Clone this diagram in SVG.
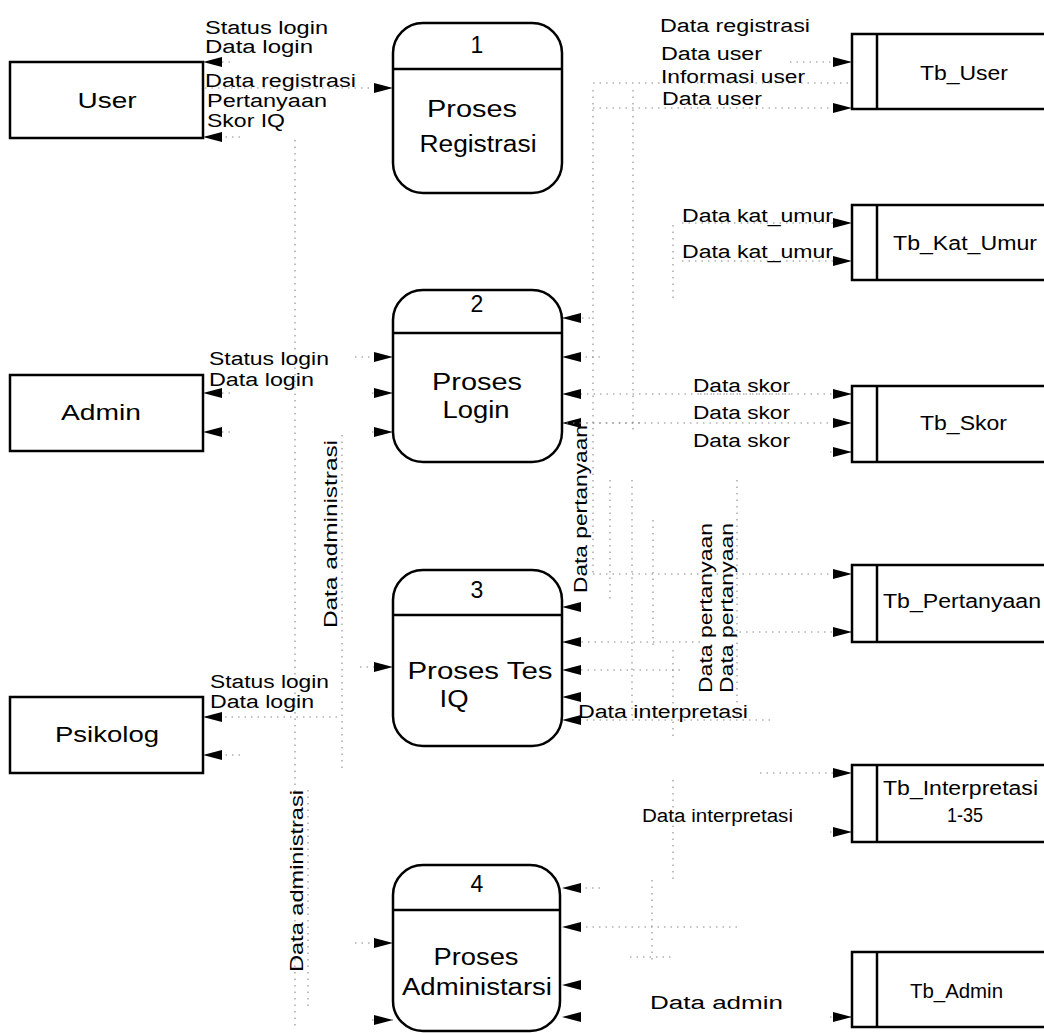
<svg xmlns="http://www.w3.org/2000/svg" width="1044" height="1033" viewBox="0 0 1044 1033">
<defs>
<style>
.box{fill:#fff;stroke:#000;stroke-width:2.5}
.div{stroke:#000;stroke-width:2.5}
.t{font-family:"Liberation Sans",Arial,sans-serif;fill:#000}
.lbl{font-size:18px}
.nd{font-size:22px}
.pn{font-size:23px}
.st{font-size:20px}
.mid{text-anchor:middle}
.c{fill:none;stroke:#8a8a8a;stroke-width:1.1;stroke-dasharray:1.5 5}
.a{fill:none;stroke:#8a8a8a;stroke-width:1.1;stroke-dasharray:1.5 5;marker-end:url(#ah)}
</style>
<marker id="ah" viewBox="0 0 19 10" refX="19" refY="5" markerWidth="19" markerHeight="10" markerUnits="userSpaceOnUse" orient="auto">
<path d="M0,0 L19,5 L0,10 Z" fill="#000"/>
</marker>
</defs>
<rect width="1044" height="1033" fill="#fff"/>

<g id="connectors">
<path class="c" d="M295,140 V1030"/>
<path class="c" d="M342,435 V770"/>
<path class="c" d="M308,790 V1010"/>
<path class="c" d="M593,90 V575"/>
<path class="c" d="M633,90 V430"/>
<path class="c" d="M673,225 V300"/>
<path class="c" d="M610,480 V600"/>
<path class="c" d="M632,480 V720"/>
<path class="c" d="M653,520 V650"/>
<path class="c" d="M673,650 V740"/>
<path class="c" d="M737,480 V720"/>
<path class="c" d="M673,780 V880"/>
<path class="c" d="M652,880 V960"/>
<path class="a" d="M230,62 H203"/>
<path class="a" d="M240,137 H203"/>
<path class="a" d="M205,88 H393"/>
<path class="a" d="M790,62 H852"/>
<path class="c" d="M593,83 H852"/>
<path class="a" d="M593,108 H852"/>
<path class="a" d="M682,223 H852"/>
<path class="a" d="M682,261 H852"/>
<path class="a" d="M590,318 H562"/>
<path class="a" d="M600,357 H562"/>
<path class="a" d="M790,394 H562"/>
<path class="a" d="M640,423 H562"/>
<path class="a" d="M355,357 H393"/>
<path class="a" d="M372,393 H393"/>
<path class="a" d="M372,432 H393"/>
<path class="a" d="M230,393 H203"/>
<path class="a" d="M230,432 H203"/>
<path class="a" d="M700,394 H852"/>
<path class="a" d="M560,423 H852"/>
<path class="a" d="M830,452 H852"/>
<path class="a" d="M593,574 H852"/>
<path class="a" d="M733,632 H852"/>
<path class="a" d="M580,607 H562"/>
<path class="a" d="M700,642 H562"/>
<path class="a" d="M680,670 H562"/>
<path class="a" d="M580,697 H562"/>
<path class="a" d="M770,720 H562"/>
<path class="a" d="M360,667 H393"/>
<path class="a" d="M337,717 H203"/>
<path class="a" d="M240,755 H203"/>
<path class="a" d="M760,773 H852"/>
<path class="a" d="M830,832 H852"/>
<path class="a" d="M600,888 H562"/>
<path class="a" d="M737,927 H562"/>
<path class="c" d="M630,957 H672"/>
<path class="a" d="M580,985 H562"/>
<path class="a" d="M580,1017 H562"/>
<path class="a" d="M355,943 H393"/>
<path class="a" d="M372,1020 H393"/>
<path class="a" d="M830,1017 H852"/>
</g>

<g id="user">
<rect class="box" x="10" y="62" width="193" height="76"/>
<text class="t nd mid" x="107" y="108" textLength="59" lengthAdjust="spacingAndGlyphs">User</text>
</g>
<g id="admin">
<rect class="box" x="10" y="375" width="193" height="76"/>
<text class="t nd mid" x="101" y="420" textLength="80" lengthAdjust="spacingAndGlyphs">Admin</text>
</g>
<g id="psikolog">
<rect class="box" x="10" y="697" width="193" height="76"/>
<text class="t nd mid" x="107" y="742" textLength="104" lengthAdjust="spacingAndGlyphs">Psikolog</text>
</g>

<g id="p1">
<rect class="box" x="393" y="23" width="169" height="170" rx="30"/>
<line class="div" x1="393" y1="69" x2="562" y2="69"/>
<text class="t pn mid" x="477" y="53">1</text>
<text class="t pn mid" x="472" y="117" textLength="90" lengthAdjust="spacingAndGlyphs">Proses</text>
<text class="t pn mid" x="478" y="152" textLength="117" lengthAdjust="spacingAndGlyphs">Registrasi</text>
</g>
<g id="p2">
<rect class="box" x="393" y="290" width="169" height="172" rx="30"/>
<line class="div" x1="393" y1="333" x2="562" y2="333"/>
<text class="t pn mid" x="477" y="312">2</text>
<text class="t pn mid" x="477" y="390" textLength="90" lengthAdjust="spacingAndGlyphs">Proses</text>
<text class="t pn mid" x="476" y="418" textLength="67" lengthAdjust="spacingAndGlyphs">Login</text>
</g>
<g id="p3">
<rect class="box" x="393" y="570" width="169" height="176" rx="30"/>
<line class="div" x1="393" y1="615" x2="562" y2="615"/>
<text class="t pn mid" x="477" y="598">3</text>
<text class="t pn mid" x="480" y="679" textLength="145" lengthAdjust="spacingAndGlyphs">Proses Tes</text>
<text class="t pn mid" x="454" y="707" textLength="29" lengthAdjust="spacingAndGlyphs">IQ</text>
</g>
<g id="p4">
<rect class="box" x="393" y="865" width="167" height="166" rx="30"/>
<line class="div" x1="393" y1="910" x2="560" y2="910"/>
<text class="t pn mid" x="477" y="892">4</text>
<text class="t pn mid" x="476" y="965" textLength="85" lengthAdjust="spacingAndGlyphs">Proses</text>
<text class="t pn mid" x="477" y="995" textLength="150" lengthAdjust="spacingAndGlyphs">Administarsi</text>
</g>

<g id="tb_user">
<rect class="box" x="852" y="34" width="220" height="75"/>
<line class="div" x1="877" y1="34" x2="877" y2="109"/>
<text class="t st" x="920" y="80" textLength="88" lengthAdjust="spacingAndGlyphs">Tb_User</text>
</g>
<g id="tb_kat_umur">
<rect class="box" x="852" y="205" width="220" height="75"/>
<line class="div" x1="877" y1="205" x2="877" y2="280"/>
<text class="t st" x="893" y="250" textLength="144" lengthAdjust="spacingAndGlyphs">Tb_Kat_Umur</text>
</g>
<g id="tb_skor">
<rect class="box" x="852" y="386" width="220" height="76"/>
<line class="div" x1="877" y1="386" x2="877" y2="462"/>
<text class="t st" x="920" y="430" textLength="87" lengthAdjust="spacingAndGlyphs">Tb_Skor</text>
</g>
<g id="tb_pertanyaan">
<rect class="box" x="852" y="565" width="220" height="77"/>
<line class="div" x1="877" y1="565" x2="877" y2="642"/>
<text class="t st" x="883" y="608" textLength="158" lengthAdjust="spacingAndGlyphs">Tb_Pertanyaan</text>
</g>
<g id="tb_interpretasi">
<rect class="box" x="852" y="765" width="220" height="77"/>
<line class="div" x1="877" y1="765" x2="877" y2="842"/>
<text class="t st" x="883" y="795" textLength="155" lengthAdjust="spacingAndGlyphs">Tb_Interpretasi</text>
<text class="t st" x="947" y="822" textLength="36" lengthAdjust="spacingAndGlyphs">1-35</text>
</g>
<g id="tb_admin">
<rect class="box" x="852" y="952" width="220" height="75"/>
<line class="div" x1="877" y1="952" x2="877" y2="1027"/>
<text class="t st" x="910" y="998" textLength="93" lengthAdjust="spacingAndGlyphs">Tb_Admin</text>
</g>

<g id="labels" class="t lbl">
<text x="205" y="34" textLength="123" lengthAdjust="spacingAndGlyphs">Status login</text>
<text x="205" y="53" textLength="108" lengthAdjust="spacingAndGlyphs">Data login</text>
<text x="205" y="87" textLength="151" lengthAdjust="spacingAndGlyphs">Data registrasi</text>
<text x="207" y="107" textLength="120" lengthAdjust="spacingAndGlyphs">Pertanyaan</text>
<text x="207" y="127" textLength="78" lengthAdjust="spacingAndGlyphs">Skor IQ</text>

<text x="209" y="365" textLength="120" lengthAdjust="spacingAndGlyphs">Status login</text>
<text x="209" y="386" textLength="105" lengthAdjust="spacingAndGlyphs">Data login</text>

<text x="210" y="688" textLength="119" lengthAdjust="spacingAndGlyphs">Status login</text>
<text x="210" y="708" textLength="104" lengthAdjust="spacingAndGlyphs">Data login</text>

<text x="660" y="32" textLength="150" lengthAdjust="spacingAndGlyphs">Data registrasi</text>
<text x="661" y="60" textLength="101" lengthAdjust="spacingAndGlyphs">Data user</text>
<text x="661" y="83" textLength="144" lengthAdjust="spacingAndGlyphs">Informasi user</text>
<text x="662" y="105" textLength="100" lengthAdjust="spacingAndGlyphs">Data user</text>

<text x="682" y="222" textLength="151" lengthAdjust="spacingAndGlyphs">Data kat_umur</text>
<text x="682" y="258" textLength="151" lengthAdjust="spacingAndGlyphs">Data kat_umur</text>

<text x="693" y="392" textLength="97" lengthAdjust="spacingAndGlyphs">Data skor</text>
<text x="693" y="419" textLength="97" lengthAdjust="spacingAndGlyphs">Data skor</text>
<text x="693" y="447" textLength="97" lengthAdjust="spacingAndGlyphs">Data skor</text>

<text x="578" y="718" textLength="170" lengthAdjust="spacingAndGlyphs">Data interpretasi</text>
<text x="642" y="822" textLength="151" lengthAdjust="spacingAndGlyphs">Data interpretasi</text>
<text x="650" y="1009" textLength="133" lengthAdjust="spacingAndGlyphs">Data admin</text>

<text transform="translate(587,593) rotate(-90)" textLength="168" lengthAdjust="spacingAndGlyphs">Data pertanyaan</text>
<text transform="translate(712,693) rotate(-90)" textLength="170" lengthAdjust="spacingAndGlyphs">Data pertanyaan</text>
<text transform="translate(733,693) rotate(-90)" textLength="170" lengthAdjust="spacingAndGlyphs">Data pertanyaan</text>
<text transform="translate(337,628) rotate(-90)" textLength="188" lengthAdjust="spacingAndGlyphs">Data administrasi</text>
<text transform="translate(303,972) rotate(-90)" textLength="182" lengthAdjust="spacingAndGlyphs">Data administrasi</text>
</g>
</svg>
